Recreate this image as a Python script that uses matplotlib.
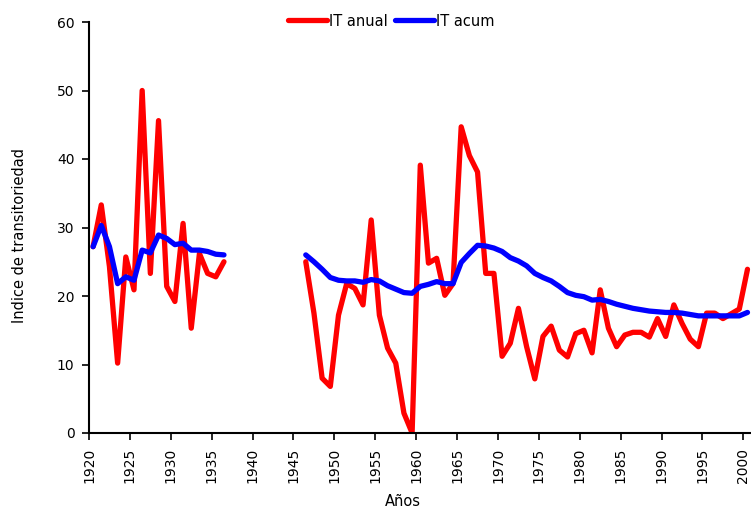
import matplotlib

matplotlib.use("Agg")
import matplotlib.pyplot as plt
import numpy as np

# --- data --------------------------------------------------------------
years_a = list(range(1920, 1937))
anual_a = [27.2, 33.3, 24.3, 10.2, 25.7, 20.9, 50.0, 23.3, 45.6, 21.4,
           19.2, 30.6, 15.3, 26.2, 23.3, 22.8, 25.0]
acum_a = [27.2, 30.3, 27.2, 21.8, 22.8, 22.3, 26.7, 26.3, 28.9, 28.4,
          27.5, 27.7, 26.7, 26.7, 26.5, 26.1, 26.0]

years_b = list(range(1946, 2001))
anual_b = [25.0, 17.5, 8.0, 6.8, 17.2, 21.8, 21.1, 18.7, 31.1, 17.2,
           12.4, 10.2, 2.9, 0.0, 39.1, 24.8, 25.5, 20.1, 21.8, 44.7,
           40.5, 38.1, 23.3, 23.3, 11.2, 13.1, 18.2, 12.6, 7.9, 14.1,
           15.6, 12.1, 11.1, 14.5, 15.0, 11.7, 20.9, 15.3, 12.6, 14.3,
           14.7, 14.7, 14.0, 16.7, 14.1, 18.7, 16.0, 13.7, 12.6, 17.5,
           17.5, 16.7, 17.4, 18.1, 23.9]
acum_b = [26.0, 25.0, 23.9, 22.7, 22.3, 22.2, 22.2, 22.0, 22.4, 22.2,
          21.5, 21.0, 20.5, 20.4, 21.4, 21.7, 22.1, 21.8, 21.8, 24.9,
          26.2, 27.4, 27.3, 27.0, 26.5, 25.6, 25.1, 24.4, 23.3, 22.7,
          22.2, 21.4, 20.5, 20.1, 19.9, 19.4, 19.5, 19.2, 18.8, 18.5,
          18.2, 18.0, 17.8, 17.7, 17.6, 17.6, 17.5, 17.3, 17.1, 17.1,
          17.1, 17.1, 17.1, 17.1, 17.6]

tick_years = list(range(1920, 2001, 5))
y_ticks = [0, 10, 20, 30, 40, 50, 60]

RED = "#ff0000"
BLUE = "#0000ff"
LW = 3.8
FS = 10.5
TICK_FS = 10

plt.rcParams["font.family"] = ["DejaVu Sans"]

fig = plt.figure(figsize=(7.51, 5.08), dpi=100)
ax = fig.add_axes([89 / 751, 75 / 508, 662 / 751, 411 / 508])

# Excel category axis: points sit midway between tick marks
xa = np.array(years_a) + 0.5
xb = np.array(years_b) + 0.5

line_kw = dict(lw=LW, solid_joinstyle="round", solid_capstyle="round")
ax.plot(xa, anual_a, color=RED, label="IT anual", **line_kw)
ax.plot(xb, anual_b, color=RED, **line_kw)
ax.plot(xa, acum_a, color=BLUE, label="IT acum", **line_kw)
ax.plot(xb, acum_b, color=BLUE, **line_kw)

ax.set_xlim(1920, 2000.93)
ax.set_ylim(0, 60)
ax.set_xticks(tick_years)
ax.set_xticklabels([str(y) for y in tick_years], rotation=90,
                   fontsize=TICK_FS)
ax.set_yticks(y_ticks)
ax.set_yticklabels([str(v) for v in y_ticks], fontsize=TICK_FS)
ax.tick_params(axis="both", direction="out", length=5, width=1.2,
               color="black", pad=5.5)

for side in ("top", "right"):
    ax.spines[side].set_visible(False)
for side in ("left", "bottom"):
    ax.spines[side].set_linewidth(1.5)

fig.text(20 / 751, 1 - 235 / 508, "Indice de transitoriedad",
         rotation=90, ha="center", va="center", fontsize=FS)
fig.text(403 / 751, 1 - 501 / 508, "Años", ha="center", va="center",
         fontsize=FS)

ax.legend(loc="center", bbox_to_anchor=(391 / 751, 1 - 21 / 508),
          bbox_transform=fig.transFigure, ncol=2, frameon=False,
          fontsize=FS, handlelength=2.7, handletextpad=0.1,
          columnspacing=0.5, borderpad=0)

fig.savefig("out.png", dpi=100)
plt.close(fig)
